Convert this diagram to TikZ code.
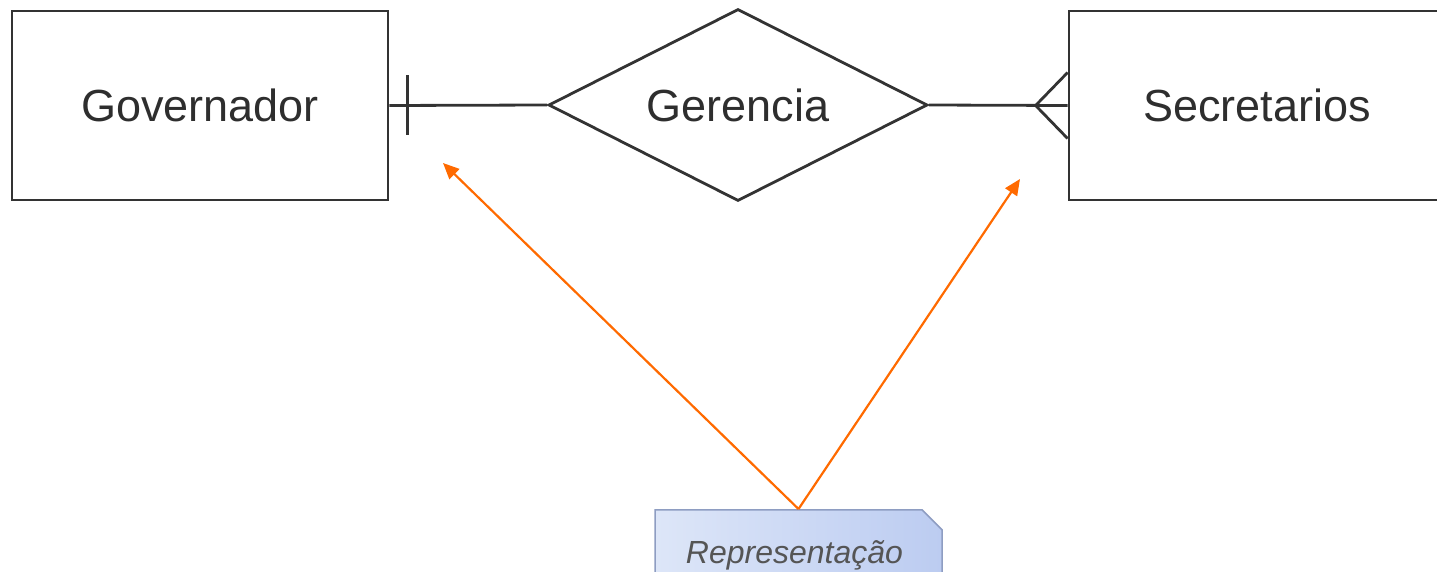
\documentclass[tikz,border=0pt]{standalone}
\usepackage{fontspec}
\setmainfont{Liberation Sans}
\usetikzlibrary{shapes.geometric,shapes.misc,arrows.meta,calc}
\definecolor{erline}{HTML}{333333}
\definecolor{ertext}{HTML}{2E2E2E}
\definecolor{orangearrow}{HTML}{FF6A00}
\definecolor{boxleft}{HTML}{DDE6F8}
\definecolor{boxright}{HTML}{BCCCF1}
\definecolor{boxborder}{HTML}{8E9DC2}
\definecolor{reptext}{HTML}{555555}
\begin{document}
\begin{tikzpicture}[x=1pt,y=-1pt,
  entity/.style={draw=erline, line width=2.8pt, rectangle, minimum width=376pt, minimum height=189pt, inner sep=0pt, font=\fontsize{45}{54}\selectfont, text=ertext},
  relation/.style={draw=erline, line width=2.8pt, diamond, aspect=1.97, minimum width=379pt, minimum height=192pt, inner sep=0pt, font=\fontsize{45}{54}\selectfont, text=ertext},
  erlink/.style={draw=erline, line width=2.8pt},
  pointer/.style={draw=orangearrow, line width=2.2pt, -{Triangle[length=16pt,width=14pt]}, fill=orangearrow},
  note/.style={chamfered rectangle, chamfered rectangle corners=north east, chamfered rectangle xsep=10pt, chamfered rectangle ysep=10pt, draw=boxborder, line width=1.5pt, left color=boxleft, right color=boxright, minimum width=287pt, inner xsep=0pt, inner ysep=21pt, text height=23pt, text depth=60pt, font=\fontsize{32}{38}\selectfont\itshape, text=reptext}
]
\useasboundingbox (0,0) rectangle (1437,572);
\node[entity] (gov) at (200,105.5) {Governador};
\node[relation] (ger) at (738,105) {Gerencia};
\node[entity] (sec) at (1257,105.5) {Secretarios};
\draw[erlink] (gov.east) -- (ger.west);
\draw[erlink] (ger.east) -- (sec.west);
\draw[erlink] ($(gov.east)+(18,-30)$) -- ($(gov.east)+(18,30)$);
\draw[erlink] ($(sec.west)+(0,-33)$) -- ($(sec.west)+(-32,0)$) -- ($(sec.west)+(0,33)$);
\node[note, anchor=north] (rep) at (798.5,509) {Representação\hspace*{8pt}};
\coordinate (tipL) at (443,163);
\coordinate (tipR) at (1020,179);
\draw[pointer] (rep.north) -- (tipL);
\draw[pointer] (rep.north) -- (tipR);
\end{tikzpicture}
\end{document}
